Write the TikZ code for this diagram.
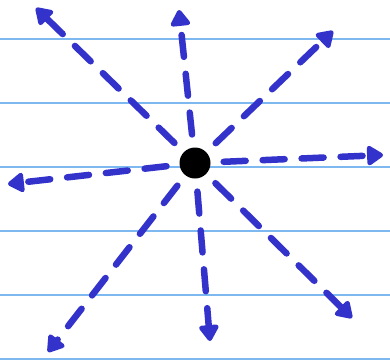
\documentclass[tikz,border=0pt]{standalone}
\usetikzlibrary{arrows.meta}
\definecolor{pen}{RGB}{51,51,204}
\definecolor{rule}{RGB}{125,185,240}
\begin{document}
\begin{tikzpicture}[x=1pt, y=-1pt,
  ray/.style = {draw=pen, line width=6.5pt, line cap=round, dash pattern=on 22pt off 17pt,
    shorten <=13pt, -{Triangle[length=18pt, width=22pt, round]}}]
\useasboundingbox (0,0) rectangle (390,360);
\foreach \y in {38.5,102.5,166.5,230.5,294.5,358.5}
  \draw[rule, line width=2pt] (0,\y) -- (390,\y);
\node[circle, fill = black, minimum size = 31pt, inner sep = 0pt] at (195,163) (c) {};
\coordinate (t1) at (36,8);
\coordinate (t2) at (179,10);
\coordinate (t3) at (333,31);
\coordinate (t4) at (383,155);
\coordinate (t5) at (8,184);
\coordinate (t6) at (48,352);
\coordinate (t7) at (210,341);
\coordinate (t8) at (352,318);
\foreach \i in {1,...,8}
  \draw[ray] (c) -- (t\i);
\end{tikzpicture}
\end{document}
